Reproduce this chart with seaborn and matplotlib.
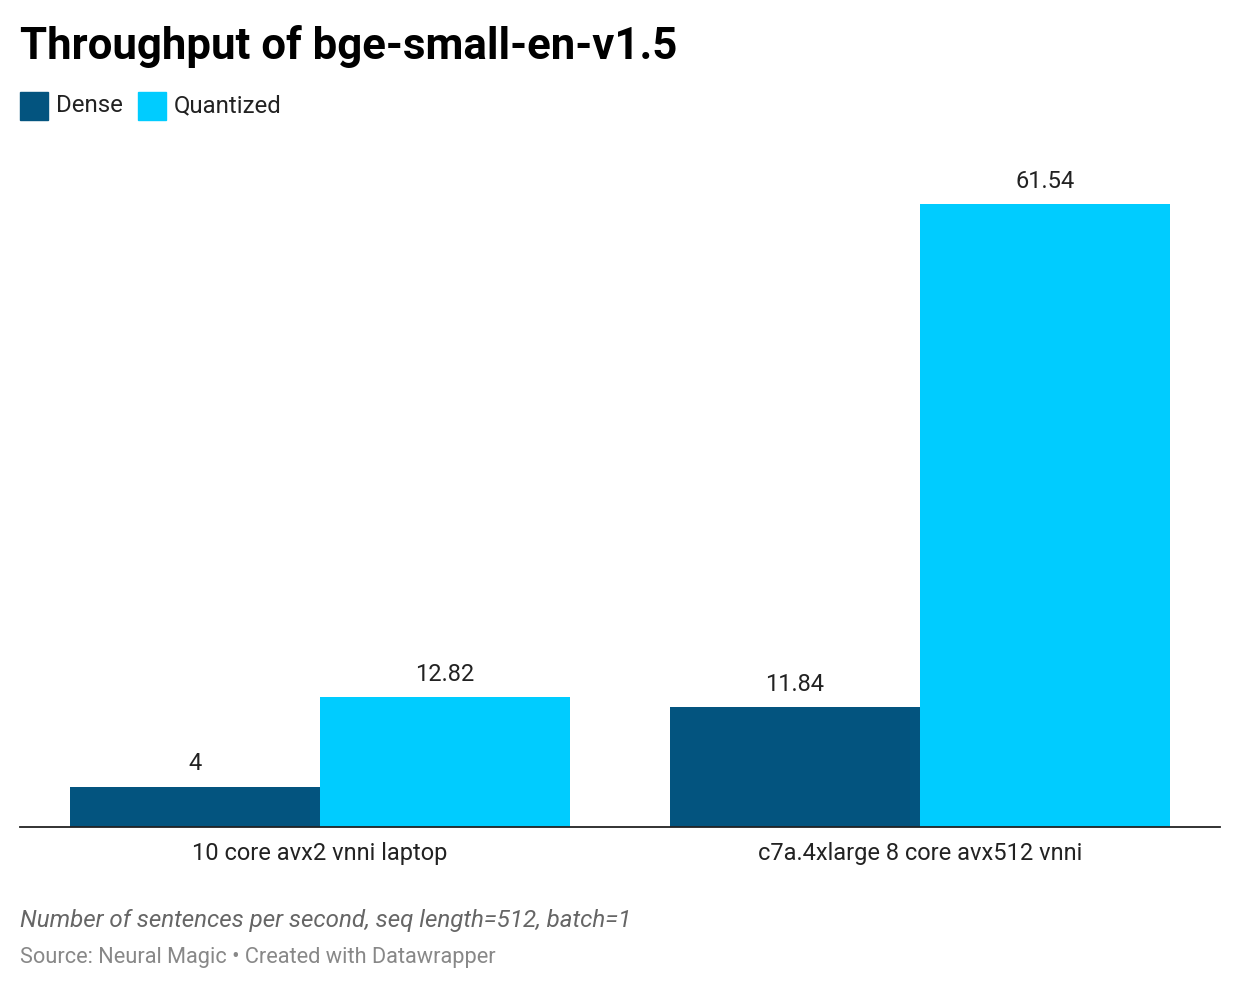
import matplotlib
matplotlib.use("Agg")
import matplotlib.pyplot as plt
import seaborn as sns
import pandas as pd
from matplotlib.patches import Rectangle

categories = ["10 core avx2 vnni laptop", "c7a.4xlarge 8 core avx512 vnni"]
series_names = ["Dense", "Quantized"]
dense_values = [4, 11.84]
quantized_values = [12.82, 61.54]
colors = ["#03547f", "#00ccff"]

df = pd.DataFrame({
    "category": categories * 2,
    "series": [series_names[0]] * 2 + [series_names[1]] * 2,
    "value": dense_values + quantized_values,
})

sns.set_theme(style="white")
plt.rcParams["font.family"] = ["Roboto", "DejaVu Sans"]

W, H = 1240, 990
fig = plt.figure(figsize=(W / 100, H / 100), dpi=100)
ax = fig.add_axes([20 / W, (H - 827) / H, 1200 / W, 668 / H])

sns.barplot(data=df, x="category", y="value", hue="series", palette=colors,
            width=0.834, ax=ax, legend=False, saturation=1, errorbar=None,
            linewidth=0)

ax.set_xlim(-0.5, 1.5)
ax.set_ylim(0, 66)
for c in ax.containers:
    ax.bar_label(c, labels=[f"{v:g}" for v in c.datavalues], padding=8,
                 fontsize=17, color="#222222")

for s in ["top", "right", "left"]:
    ax.spines[s].set_visible(False)
ax.spines["bottom"].set_color("#222222")
ax.spines["bottom"].set_linewidth(1.3)
ax.set_yticks([])
ax.set_xlabel("")
ax.set_ylabel("")
ax.tick_params(axis="x", length=0, pad=11, labelsize=17, labelcolor="#222222")
ax.set_facecolor("white")

fig.text(20 / W, 1 - 46 / H, "Throughput of bge-small-en-v1.5", fontsize=31.5,
         fontweight="bold", color="#000000", va="center", ha="left")

# legend
x = 20
for name, col, w in zip(series_names, colors, [118, 150]):
    fig.patches.append(Rectangle((x / W, 1 - 120 / H), 28 / W, 28 / H,
                                 transform=fig.transFigure, color=col))
    fig.text((x + 36) / W, 1 - 106 / H, name, fontsize=17.3, color="#222222",
             va="center", ha="left")
    x += w

fig.text(20 / W, 1 - 920 / H, "Number of sentences per second, seq length=512, batch=1",
         fontsize=17.4, style="italic", color="#666666", va="center", ha="left")
fig.text(20 / W, 1 - 957 / H, "Source: Neural Magic • Created with Datawrapper",
         fontsize=15.7, color="#888888", va="center", ha="left")

fig.savefig("out.png", dpi=100, facecolor="white")
